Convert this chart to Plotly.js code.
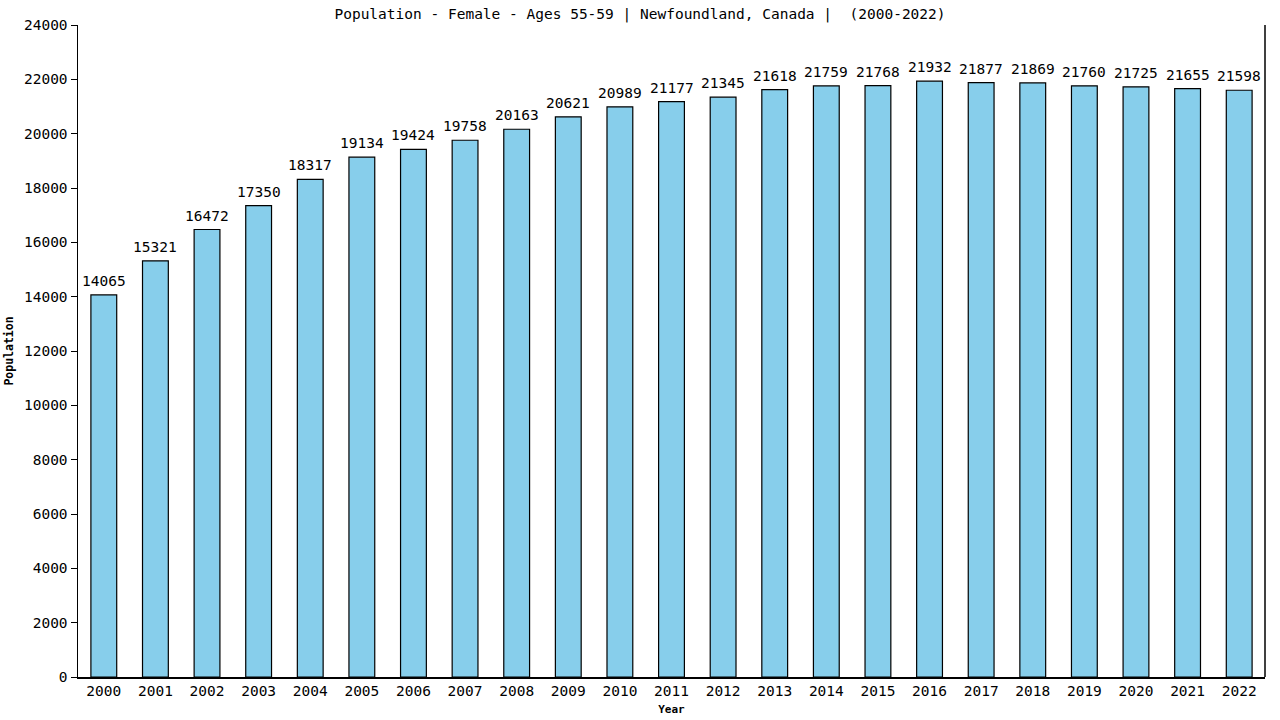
<!DOCTYPE html>
<html>
<head>
<meta charset="utf-8">
<script src="https://cdn.plot.ly/plotly-3.0.1.min.js"></script>
<style>
  html, body { margin: 0; padding: 0; background: #fff; }
  #chart { width: 1280px; height: 720px; }
</style>
</head>
<body>
<div id="chart"></div>
<script>
// years and female population aged 55-59, Newfoundland
const years = ['2000', '2001', '2002', '2003', '2004', '2005', '2006', '2007', '2008', '2009', '2010', '2011',
               '2012', '2013', '2014', '2015', '2016', '2017', '2018', '2019', '2020', '2021', '2022'];
const population = [14065, 15321, 16472, 17350, 18317, 19134, 19424, 19758, 20163, 20621, 20989, 21177,
                     21345, 21618, 21759, 21768, 21932, 21877, 21869, 21760, 21725, 21655, 21598];
const yTicks = [0, 2000, 4000, 6000, 8000, 10000, 12000, 14000, 16000, 18000, 20000, 22000, 24000];

const mono = 'DejaVu Sans Mono, monospace';

const trace = {
    type: 'bar',
    x: years,
    y: population,
    hoverinfo: 'x+y',
    marker: { color: '#87ceeb', line: { color: '#000', width: 1.2 } }
};

// value labels sit a few pixels above each bar (x given as category index)
const labels = population.map((v, i) => ({
    x: i, y: v, xref: 'x', yref: 'y',
    text: String(v),
    showarrow: false, yanchor: 'bottom', yshift: 4,
    font: { family: mono, size: 14.5, color: '#000' }
}));

const layout = {
    width: 1280,
    height: 720,
    margin: { l: 78, r: 15, t: 25, b: 43 },
    paper_bgcolor: '#fff',
    plot_bgcolor: '#fff',
    bargap: 0.5,
    showlegend: false,
    font: { family: mono, color: '#000' },
    title: {
        text: 'Population - Female - Ages 55-59 | Newfoundland, Canada |  (2000-2022)',
        font: { family: mono, size: 14.5, color: '#000' },
        x: 0.5, xanchor: 'center',
        y: 0.988, yanchor: 'top'
    },
    xaxis: {
        type: 'category',
        showline: true, linecolor: '#000', linewidth: 1.5,
        ticks: '', showgrid: false, zeroline: false,
        tickfont: { family: mono, size: 14.5, color: '#000' },
        title: { text: '<b>Year</b>', font: { family: mono, size: 11, color: '#000' }, standoff: 7 }
    },
    yaxis: {
        range: [0, 24000],
        tickvals: yTicks,
        ticktext: yTicks.map(String),
        showline: true, linecolor: '#000', linewidth: 1.5,
        ticks: 'outside', ticklen: 6, tickcolor: '#000', tickwidth: 1,
        showgrid: false, zeroline: false,
        tickfont: { family: mono, size: 14.5, color: '#000' },
        title: { text: '<b>Population</b>', font: { family: mono, size: 11.5, color: '#000' }, standoff: 8 }
    },
    annotations: labels,
    shapes: [{
        type: 'line', xref: 'paper', yref: 'paper',
        x0: 1, x1: 1, y0: 0, y1: 1,
        line: { color: '#000', width: 1.5 }
    }]
};

Plotly.newPlot('chart', [trace], layout, { displayModeBar: false, staticPlot: true });
</script>
</body>
</html>
